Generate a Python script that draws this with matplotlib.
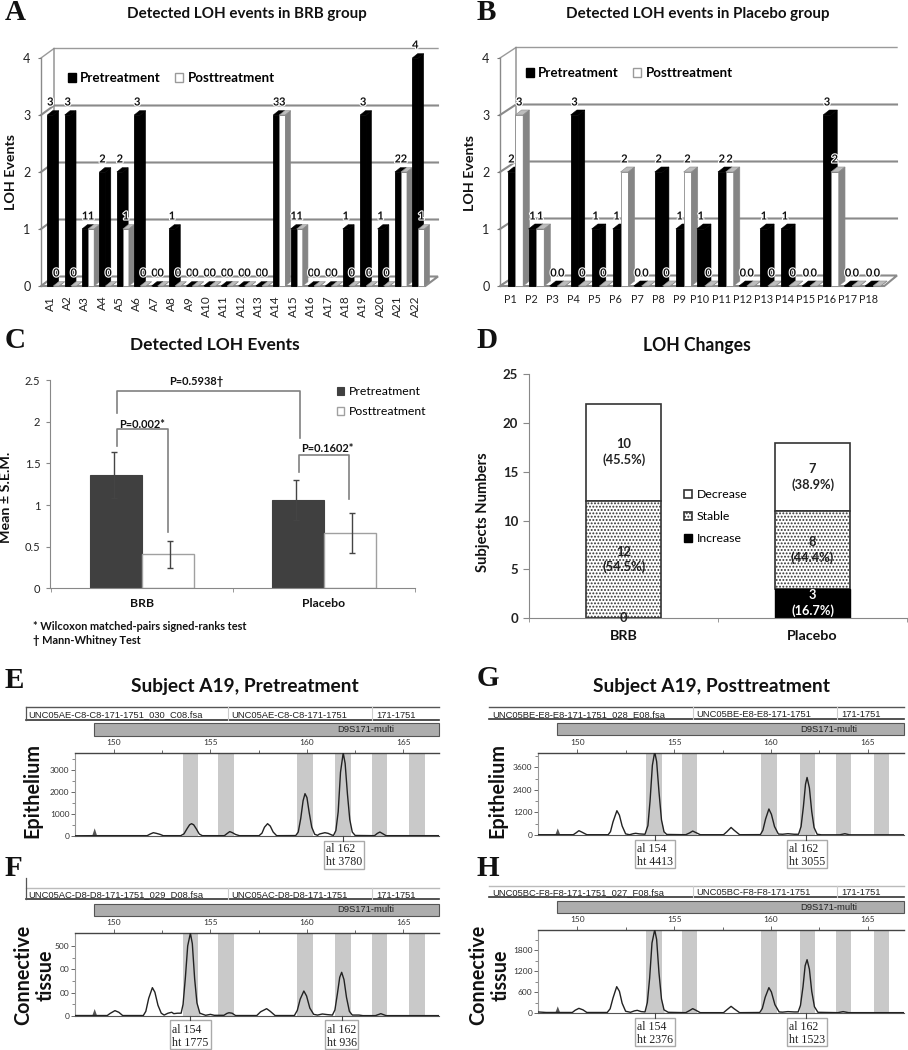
import numpy as np
import matplotlib
matplotlib.use("Agg")
import matplotlib.pyplot as plt
import matplotlib.patheffects as pe
from matplotlib.patches import Polygon, Rectangle, Patch

W, H = 908, 1050
plt.rcParams['font.family'] = ['Lato', 'DejaVu Sans']
plt.rcParams['hatch.linewidth'] = 0.9

# ---------- data ----------
a_labels = [f"A{i}" for i in range(1, 23)]
a_pre = [3, 3, 1, 2, 2, 3, 0, 1, 0, 0, 0, 0, 0, 3, 1, 0, 0, 1, 3, 1, 2, 4]
a_post = [0, 0, 1, 0, 1, 0, 0, 0, 0, 0, 0, 0, 0, 3, 1, 0, 0, 0, 0, 0, 2, 1]
b_labels = [f"P{i}" for i in range(1, 19)]
b_pre = [2, 1, 0, 3, 1, 1, 0, 2, 1, 1, 2, 0, 1, 1, 0, 3, 0, 0]
b_post = [3, 1, 0, 0, 0, 2, 0, 0, 2, 0, 2, 0, 0, 0, 0, 2, 0, 0]

c_groups = ["BRB", "Placebo"]
c_pre = [1.36, 1.06]
c_post = [0.41, 0.67]
c_pre_err = [0.28, 0.24]
c_post_err = [0.16, 0.24]

d_groups = ["BRB", "Placebo"]
d_increase = [0, 3]
d_stable = [12, 8]
d_decrease = [10, 7]
d_increase_txt = ["0", "3\n(16.7%)"]
d_stable_txt = ["12\n(54.5%)", "8\n(44.4%)"]
d_decrease_txt = ["10\n(45.5%)", "7\n(38.9%)"]

bins = [(153.57, 154.36), (155.4, 156.2), (159.5, 160.3), (161.47, 162.27), (163.37, 164.15), (165.3, 166.1)]

e_x = [147.98,148.9,151.72,151.88,152.04,152.2,152.4,152.55,153.46,153.63,153.8,153.92,154.02,154.13,154.27,154.42,154.58,155.72,155.86,156.0,156.14,156.3,156.5,157.52,157.67,157.8,157.96,158.1,158.25,158.43,159.42,159.55,159.68,159.8,159.9,160.0,160.12,160.25,160.4,160.55,160.65,160.93,161.1,161.3,161.38,161.5,161.62,161.74,161.88,161.98,162.1,162.22,162.35,162.5,163.5,163.65,163.78,163.92,164.1,166.86]
e_y = [10,15,15,90,150,120,70,15,15,100,350,510,560,510,320,90,15,15,110,200,150,70,15,15,130,400,560,450,180,15,20,180,800,1600,1925,1750,1050,400,80,30,90,150,120,40,30,250,1100,2900,3780,3300,1900,750,180,25,15,120,180,110,15,15]
f_x = [147.98,148.6,149.65,149.8,150.05,150.25,150.45,151.52,151.65,151.8,151.99,152.12,152.28,152.45,152.6,152.8,152.99,153.1,153.3,153.48,153.58,153.7,153.82,153.96,154.06,154.18,154.3,154.45,154.75,155.0,155.2,155.7,155.85,155.96,156.12,156.3,157.4,157.6,157.91,158.1,158.35,159.35,159.5,159.65,159.84,159.98,160.15,160.35,160.55,160.8,161.05,161.32,161.45,161.58,161.7,161.8,161.92,162.05,162.2,162.35,162.7,162.9,163.55,163.83,164.1,166.86]
f_y = [10,10,10,55,115,80,10,10,100,380,607,510,230,60,20,60,80,50,60,60,250,820,1500,1775,1550,800,280,60,15,35,15,15,55,70,60,10,10,90,157,100,10,10,120,360,536,430,170,35,20,43,30,20,130,480,830,936,780,400,100,20,20,8,8,50,8,8]
g_x = [147.98,149.8,149.95,150.09,150.25,150.5,151.6,151.72,151.85,152.05,152.18,152.32,152.5,152.7,152.9,153.02,153.2,153.5,153.65,153.76,153.88,154.0,154.1,154.22,154.35,154.48,154.62,155.6,155.8,155.96,156.12,156.35,157.55,157.72,157.94,158.1,158.38,159.45,159.58,159.72,159.89,160.02,160.18,160.38,160.6,160.87,161.2,161.42,161.55,161.67,161.78,161.86,161.98,162.1,162.22,162.38,162.6,163.55,163.81,164.05,166.86]
g_y = [15,15,120,230,150,15,15,180,700,1290,1050,480,60,15,70,90,60,40,500,1800,3700,4413,3900,2300,800,170,30,15,110,210,130,15,15,170,400,250,15,20,250,850,1380,1100,450,50,40,70,40,40,450,1500,2700,3055,2500,1250,400,40,10,10,70,10,10]
h_x = [147.98,148.4,149.75,149.9,150.09,150.3,150.5,151.55,151.7,151.85,152.04,152.18,152.32,152.5,152.75,152.95,153.1,153.3,153.5,153.62,153.74,153.86,154.0,154.1,154.22,154.35,154.48,154.7,155.6,155.8,155.96,156.12,156.35,157.55,157.72,157.94,158.1,158.38,159.42,159.55,159.7,159.89,160.02,160.2,160.42,160.6,160.87,161.2,161.4,161.52,161.65,161.76,161.86,161.98,162.1,162.24,162.42,163.45,163.72,164.0,166.86]
h_y = [30,15,15,80,133,90,15,15,120,430,752,620,280,50,20,60,76,40,30,300,1000,2000,2376,2100,1150,400,90,20,10,70,124,80,10,10,90,190,120,10,15,130,450,724,600,240,30,25,40,30,30,220,750,1350,1523,1250,620,180,20,10,40,10,10]

# ---------- helpers ----------
fig = plt.figure(figsize=(W / 100, H / 100), dpi=100, facecolor='white')


def axpx(l, t, r, b, **kw):
    return fig.add_axes([l / W, 1 - b / H, (r - l) / W, (b - t) / H], **kw)


ov = fig.add_axes([0, 0, 1, 1], zorder=20, facecolor='none')
ov.set_xlim(0, W)
ov.set_ylim(H, 0)
ov.axis('off')


def px2ax(ax, x, y):
    bb = ax.get_position()
    return (x / W - bb.x0) / bb.width, ((1 - y / H) - bb.y0) / bb.height


def title(ax, text, x, y, size):
    fx, fy = px2ax(ax, x, y)
    ax.set_title(text, x=fx, y=fy, va='center', ha='center', fontsize=size, fontweight='bold', color='#111111', pad=0)


def ylab(ax, text, x, y, size, **kw):
    fx, fy = px2ax(ax, x, y)
    ax.set_ylabel(text, fontsize=size, fontweight='bold', color='#111111', va='center', ha='center', **kw)
    ax.yaxis.set_label_coords(fx, fy)


def panel(letter, x, y):
    ov.text(x, y, letter, family='Liberation Serif', fontweight='bold', fontsize=21, ha='center', va='center', color='#111111')


for L, X, Y in [('A', 15, 13), ('B', 486, 12), ('C', 15, 341), ('D', 487, 341),
                ('E', 14, 680), ('F', 13, 868), ('G', 488, 679), ('H', 488, 868)]:
    panel(L, X, Y)


def legend(ax, handles, labels, x, y, size, weight='normal', ncol=1, **kw):
    leg = ax.legend(handles, labels, loc='upper left', bbox_to_anchor=(x, y), bbox_transform=ov.transData,
                    frameon=False, ncol=ncol, borderpad=0, borderaxespad=0,
                    prop={'size': size, 'weight': weight}, **kw)
    return leg


def bars3d(ax, labels, pre, post, spacing, pre_off, post_off, width_px, gdx, gdy, bdx, bdy, label_rot, pad, lsize):
    sx = 1 / spacing
    sy = 1 / 57.0
    wid = width_px * sx
    x0, x1 = ax.get_xlim()
    DX, DY = gdx * sx, gdy * sy
    grid = '#8a8a8a'
    # walls and gridlines
    for v in [1, 2, 3, 4]:
        ax.plot([x0, x0 + DX, x1], [v, v + DY, v + DY], color=grid if v < 4 else '#9a9a9a',
                lw=1.5 if v < 4 else 1.0, clip_on=False, zorder=1)
    fx = x0 + (x1 - x0) * 0.968
    ax.add_patch(Polygon([(x0, 0), (x0 + DX, DY), (x1, DY), (fx, 0)], closed=True, fc='white', ec=grid, lw=1.5,
                         clip_on=False, zorder=1.2))
    ax.plot([x0, x0 + DX, x0 + DX], [0, DY, 4 + DY], color=grid, lw=1.0, clip_on=False, zorder=1.1)
    bdxd, bdyd = bdx * sx, bdy * sy
    z = 2.0
    for i, (p, q) in enumerate(zip(pre, post)):
        for kind, v in (('pre', p), ('post', q)):
            c = i + (pre_off if kind == 'pre' else post_off)
            l, r = c - wid / 2, c + wid / 2
            if kind == 'pre':
                front, top, side, ec = 'black', 'black', 'black', 'black'
            else:
                front, top, side, ec = 'white', '#bdbdbd', '#858585', '#8a8a8a'
            ax.bar(c, v, width=wid, color=front, edgecolor=ec, linewidth=0.6, zorder=z, clip_on=False)
            ax.add_patch(Polygon([(l, v), (l + bdxd, v + bdyd), (r + bdxd, v + bdyd), (r, v)], closed=True,
                                 fc=top, ec=ec, lw=0.4, clip_on=False, zorder=z))
            ax.add_patch(Polygon([(r, 0), (r + bdxd, bdyd), (r + bdxd, v + bdyd), (r, v)], closed=True,
                                 fc=side, ec=ec, lw=0.4, clip_on=False, zorder=z))
            z += 0.01
    halo = [pe.withStroke(linewidth=1.6, foreground='white')]
    for i, (p, q) in enumerate(zip(pre, post)):
        for off, v in ((pre_off, p), (post_off, q)):
            ax.text(i + off, v + 13 * sy, str(v), ha='center', va='center', fontsize=8, fontweight='bold',
                    color='#111111', path_effects=halo, zorder=10, clip_on=False)
    ax.set_ylim(0, 4)
    ax.set_yticks([0, 1, 2, 3, 4])
    ax.set_xticks(range(len(labels)))
    ax.set_xticklabels(labels, rotation=label_rot, fontsize=lsize, color='#222222')
    ax.tick_params(axis='x', length=0, pad=pad)
    ax.tick_params(axis='y', length=2.5, width=0.8, color='#777777', pad=5, labelsize=9, labelcolor='#222222')
    for s in ['top', 'right', 'bottom']:
        ax.spines[s].set_visible(False)
    ax.spines['left'].set_color(grid)
    ax.spines['left'].set_linewidth(1.0)
    ax.patch.set_alpha(0)


pre_h = Patch(fc='black', ec='black')
post_h = Patch(fc='white', ec='#9a9a9a')

# ---------- A ----------
axA = axpx(41, 58, 438, 286)
axA.set_xlim((41 - 50) / 17.38, (438 - 50) / 17.38)
bars3d(axA, a_labels, a_pre, a_post, 17.38, 0.02, 0.365, 6.0, 13, 9.5, 5.3, 4.3, 90, 7, 8.5)
title(axA, "Detected LOH events in BRB group", 247, 14, 10.9)
ylab(axA, "LOH Events", 11, 172, 10.3)
legend(axA, [pre_h, post_h], ["Pretreatment", "Posttreatment"], 67.5, 72, 9.6, 'bold', ncol=2,
       handlelength=0.6, handleheight=0.6, handletextpad=0.35, columnspacing=1.05)

# ---------- B ----------
axB = axpx(500, 58, 897, 286)
axB.set_xlim((500 - 510.7) / 21.04, (897 - 510.7) / 21.04)
bars3d(axB, b_labels, b_pre, b_post, 21.04, 0.035, 0.405, 7.8, 16, 10.5, 6.3, 5.0, 0, 6, 7.8)
title(axB, "Detected LOH events in Placebo group", 698, 14, 10.9)
ylab(axB, "LOH Events", 470, 173, 10.3)
legend(axB, [pre_h, post_h], ["Pretreatment", "Posttreatment"], 525.5, 67, 9.6, 'bold', ncol=2,
       handlelength=0.6, handleheight=0.6, handletextpad=0.35, columnspacing=1.05)

# ---------- C ----------
axC = axpx(50, 380.3, 415, 588.3)
axC.set_xlim(-0.505, 1.5)
axC.set_ylim(0, 2.5)
xs = np.arange(2)
bw = 0.286
axC.bar(xs - bw / 2, c_pre, bw, color='#404040', edgecolor='#404040', linewidth=0.8, label='Pretreatment')
axC.bar(xs + bw / 2, c_post, bw, color='white', edgecolor='#a0a0a0', linewidth=1.0, label='Posttreatment')
axC.errorbar(xs - bw / 2 - 0.01, c_pre, yerr=c_pre_err, fmt='none', ecolor='#444444', elinewidth=1.0, capsize=2, capthick=1.0)
axC.errorbar(xs + bw / 2 + 0.01, c_post, yerr=c_post_err, fmt='none', ecolor='#444444', elinewidth=1.0, capsize=2, capthick=1.0)
axC.set_xticks(xs)
axC.set_xticklabels(c_groups, fontsize=8.8, fontweight='bold', color='#111111')
axC.set_xticks([-0.5, 0.5, 1.5], minor=True)
axC.tick_params(axis='x', which='major', length=0, pad=7)
axC.tick_params(axis='x', which='minor', length=3, color='#888888')
axC.set_yticks([0, 0.5, 1, 1.5, 2, 2.5])
axC.set_yticklabels(['0', '0.5', '1', '1.5', '2', '2.5'], fontsize=8, color='#222222')
axC.tick_params(axis='y', length=3, color='#888888', pad=4)
for s in ['top', 'right']:
    axC.spines[s].set_visible(False)
for s in ['left', 'bottom']:
    axC.spines[s].set_color('#888888')
title(axC, "Detected LOH Events", 215, 345, 12.5)
ylab(axC, "Mean ± S.E.M.", 6, 497, 10.3)
legend(axC, *axC.get_legend_handles_labels(), 337, 386, 8.8, handlelength=0.6, handleheight=0.6,
       handletextpad=0.35, labelspacing=0.75)
for xy in ([(117.3, 413.3), (117.3, 390.7), (300, 390.7), (300, 438.3)],
           [(117.3, 445.7), (117.3, 429.3), (168, 429.3), (168, 531.7)],
           [(298.7, 471.7), (298.7, 455), (349.3, 455), (349.3, 499)]):
    ov.plot(*zip(*xy), color='#808080', lw=1.2)
for t, x, y in [("P=0.5938†", 196.7, 381.7), ("P=0.002*", 142, 425), ("P=0.1602*", 327, 449)]:
    ov.text(x, y, t, fontsize=7.9, fontweight='bold', ha='center', va='center', color='#111111')
ov.text(33, 626, "* Wilcoxon matched-pairs signed-ranks test", fontsize=7.9, fontweight='bold', va='center', color='#111111')
ov.text(33, 640, "† Mann-Whitney Test", fontsize=7.9, fontweight='bold', va='center', color='#111111')

# ---------- D ----------
axD = axpx(529.3, 374.3, 907, 618)
axD.set_xlim(-0.4987, 1.494)
axD.set_ylim(0, 25)
xd = np.arange(2)
dw = 0.4
inc = np.array(d_increase)
stb = np.array(d_stable)
dec = np.array(d_decrease)
bd = axD.bar(xd, dec, dw, bottom=inc + stb, facecolor='white', edgecolor='#333333', linewidth=1.2, label='Decrease')
bs = axD.bar(xd, stb, dw, bottom=inc, facecolor='white', edgecolor='#333333', linewidth=1.2, hatch='.....', label='Stable')
bi = axD.bar(xd, inc, dw, facecolor='black', edgecolor='black', linewidth=1.0, label='Increase')
for i in range(2):
    axD.text(i, inc[i] + stb[i] + dec[i] / 2, d_decrease_txt[i], ha='center', va='center', fontsize=9.3, fontweight='bold',
             color='#222222', linespacing=1.3)
    axD.text(i, inc[i] + stb[i] / 2, d_stable_txt[i], ha='center', va='center', fontsize=9.3, fontweight='bold',
             color='#222222', linespacing=1.3)
    axD.text(i, inc[i] / 2, d_increase_txt[i], ha='center', va='center', fontsize=9.3, fontweight='bold',
             color='white' if inc[i] else '#222222', linespacing=1.3)
axD.set_xticks(xd)
axD.set_xticklabels(d_groups, fontsize=10.3, fontweight='bold', color='#111111')
axD.set_xticks([-0.5, 0.5, 1.5], minor=True)
axD.tick_params(axis='x', which='major', length=0, pad=9)
axD.tick_params(axis='x', which='minor', length=3, color='#888888')
axD.set_yticks([0, 5, 10, 15, 20, 25])
axD.set_yticklabels(['0', '5', '10', '15', '20', '25'], fontsize=9.5, fontweight='bold', color='#222222')
axD.tick_params(axis='y', length=4, color='#888888', pad=4)
for s in ['top', 'right']:
    axD.spines[s].set_visible(False)
for s in ['left', 'bottom']:
    axD.spines[s].set_color('#888888')
title(axD, "LOH Changes", 696.5, 345, 12.7)
ylab(axD, "Subjects Numbers", 483, 512, 10.6)
legend(axD, [bd, bs, bi], ['Decrease', 'Stable', 'Increase'], 684, 489, 8.8, handlelength=0.68, handleheight=0.68,
       handletextpad=0.35, labelspacing=0.9)


# ---------- E-H ----------
SER = 'Liberation Serif'
SAN = 'Liberation Sans'


def trace(rect, xs, ys, tri_h, ymax, major, minor, major_lbl, fills, ylabel, ylabel_xy, ylabel_size):
    ax = axpx(*rect)
    xs = np.array(xs)
    ys = np.array(ys)
    ax.set_xlim(147.98, 166.86)
    ax.set_ylim(0, ymax)
    for a, b in bins:
        ax.axvspan(a, b, color='#c9c9c9', lw=0, zorder=1)
    for a, b in fills:
        m = (xs >= a) & (xs <= b)
        ax.fill_between(xs[m], ys[m], color='#c9c9c9', lw=0, zorder=1.5)
    ax.plot(xs, ys, color='#222222', lw=1.0, zorder=3, solid_joinstyle='round')
    ax.fill([148.87, 149.0, 149.13], [0, tri_h, 0], color='#555555', lw=0, zorder=2)
    ax.xaxis.tick_top()
    ax.set_xticks([150, 155, 160, 165])
    ax.set_xticks([152.5, 157.5, 162.5], minor=True)
    ax.tick_params(axis='x', which='major', length=3, width=0.7, color='#666666', pad=1.5, labelsize=6.0, labelcolor='#333333')
    ax.tick_params(axis='x', which='minor', length=2, width=0.7, color='#666666')
    ax.set_yticks(major)
    ax.set_yticklabels(major_lbl, fontsize=6.0, color='#333333')
    ax.set_yticks(minor, minor=True)
    ax.tick_params(axis='y', which='major', length=3, width=0.7, color='#666666', pad=1)
    ax.tick_params(axis='y', which='minor', length=2, width=0.7, color='#888888')
    ax.spines['top'].set_color('#444444')
    ax.spines['top'].set_linewidth(1.0)
    ax.spines['right'].set_visible(False)
    ax.spines['left'].set_color('#999999')
    ax.spines['bottom'].set_color('#555555')
    ax.spines['bottom'].set_linewidth(0.8)
    ylab(ax, ylabel, ylabel_xy[0], ylabel_xy[1], ylabel_size, linespacing=1.15)
    return ax


def header(x0, x1, barx, tline, bline, tx, seps, texts, bar_t, bar_b, d9x, top_light=False, left_tall=None):
    ov.plot([x0, x1], [tline, tline], color='#bbbbbb' if top_light else '#555555', lw=1.0)
    ov.plot([x0, x1], [bline, bline], color='#333333', lw=1.2)
    if left_tall is not None:
        ov.plot([x0, x0], [left_tall, bline], color='#555555', lw=0.9)
    for s in seps:
        ov.plot([s, s], [tline, bline], color='#cccccc', lw=0.8)
    for (xx, t) in texts:
        ov.text(xx, tx, t, family=SAN, fontsize=6.75, va='center', color='#222222')
    ov.add_patch(Rectangle((barx, bar_t), x1 - barx, bar_b - bar_t, fc='#adadad', ec='#555555', lw=0.8))
    ov.text(d9x, (bar_t + bar_b) / 2, "D9S171-multi", family=SAN, fontsize=6.75, ha='center', va='center', color='#222222')


def callout(x0, x1, t, b, tickx, tick_top, l1, l2, y1, y2, tx):
    ov.plot([tickx, tickx], [tick_top, t], color='#444444', lw=0.8)
    ov.add_patch(Rectangle((x0, t), x1 - x0, b - t, fc='white', ec='#aaaaaa', lw=1.0))
    ov.text(tx, y1, l1, family=SER, fontsize=8.6, va='center', color='#222222')
    ov.text(tx, y2, l2, family=SER, fontsize=8.6, va='center', color='#222222')


Y0 = 665
z = lambda v: v / 3
ze = lambda v: Y0 + v / 3
zg = lambda v: 454 + v / 3

axE = trace((75, 752.7, 439.3, 836), e_x, e_y, 350, 3788, [0, 1000, 2000, 3000],
            [500, 1500, 2500, 3500], ['0', '1000', '2000', '3000'], [], "Epithelium", (32.7, ze(375)), 14.2)
axF = trace((75, 932.7, 439.3, 1016), f_x, f_y, 150, 1785, [0, 500, 1000, 1500],
            [250, 750, 1250], ['0', '00', '00', '500'], [(153.5, 154.5), (161.4, 162.3)],
            "Connective\ntissue", (34.5, ze(930)), 14.2)
axG = trace((538, 752.7, 904, 835), g_x, g_y, 350, 4370, [0, 1200, 2400, 3600],
            [600, 1800, 3000, 4200], ['0', '1200', '2400', '3600'], [(153.5, 154.6)], "Epithelium", (zg(130), ze(375)), 14.2)
axH = trace((538, 929.7, 904, 1013), h_x, h_y, 190, 2380, [0, 600, 1200, 1800],
            [300, 900, 1500, 2100], ['0', '600', '1200', '1800'], [(153.5, 154.5), (161.5, 162.3)],
            "Connective\ntissue", (zg(107), ze(930)), 14.2)
title(axE, "Subject A19, Pretreatment", 244.5, ze(65), 13.8)
title(axG, "Subject A19, Posttreatment", zg(773), ze(65), 13.8)

header(z(77), z(1318), z(283), ze(127), ze(164), ze(150), [z(685), z(1115)],
       [(z(85), "UNC05AE-C8-C8-171-1751_030_C08.fsa"), (z(695), "UNC05AE-C8-C8-171-1751"), (z(1128), "171-1751")],
       ze(175), ze(212), z(1098), left_tall=ze(127))
header(z(77), z(1318), z(283), ze(668), ze(703), ze(690), [z(685), z(1115)],
       [(z(85), "UNC05AC-D8-D8-171-1751_029_D08.fsa"), (z(695), "UNC05AC-D8-D8-171-1751"), (z(1128), "171-1751")],
       ze(716), ze(752), z(1098), top_light=True, left_tall=ze(640))
header(zg(106), zg(1350), zg(310), ze(127), ze(163), ze(148), [zg(716), zg(1150)],
       [(zg(114), "UNC05BE-E8-E8-171-1751_028_E08.fsa"), (zg(727), "UNC05BE-E8-E8-171-1751"), (zg(1162), "171-1751")],
       ze(175), ze(210), zg(1125))
header(zg(106), zg(1350), zg(310), ze(662), ze(697), ze(682), [zg(716), zg(1150)],
       [(zg(114), "UNC05BC-F8-F8-171-1751_027_F08.fsa"), (zg(727), "UNC05BC-F8-F8-171-1751"), (zg(1162), "171-1751")],
       ze(708), ze(744), zg(1125), top_light=True)

callout(z(972), z(1092), ze(528), ze(612), z(1030), ze(513), "al 162", "ht 3780", ze(553), ze(592), z(978))
callout(z(510), z(632), ze(1065), ze(1152), z(571), ze(1053), "al 154", "ht 1775", ze(1094), ze(1133), z(517))
callout(z(975), z(1075), ze(1065), ze(1152), z(1025), ze(1053), "al 162", "ht 936", ze(1094), ze(1133), z(982))
callout(zg(543), zg(664), ze(525), ze(608), zg(602), ze(510), "al 154", "ht 4413", ze(552), ze(590), zg(550))
callout(zg(1000), zg(1118), ze(525), ze(608), zg(1057), ze(510), "al 162", "ht 3055", ze(552), ze(590), zg(1006))
callout(zg(543), zg(664), ze(1060), ze(1143), zg(602), ze(1044), "al 154", "ht 2376", ze(1085), ze(1124), zg(550))
callout(zg(1000), zg(1118), ze(1060), ze(1143), zg(1057), ze(1044), "al 162", "ht 1523", ze(1085), ze(1124), zg(1006))

fig.savefig("out.png", dpi=100)
